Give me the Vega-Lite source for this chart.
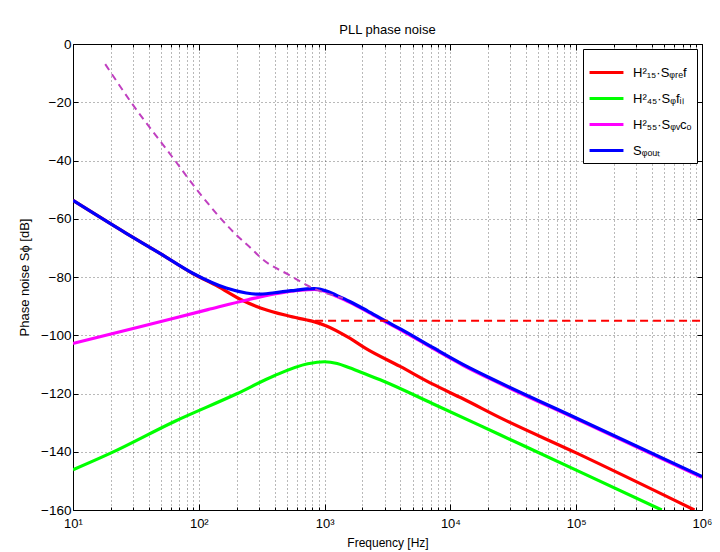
{
  "$schema": "https://vega.github.io/schema/vega-lite/v6.json",
  "width": 629,
  "height": 466,
  "autosize": "none",
  "padding": {"left": 73, "top": 44, "right": 18, "bottom": 42},
  "background": "white",
  "title": {"text": "PLL phase noise", "font": "Liberation Sans", "fontSize": 13, "fontWeight": "normal", "color": "black", "offset": 0},
  "config": {
    "view": {"stroke": "black", "strokeWidth": 1},
    "axis": {"labelFont": "Liberation Sans", "titleFont": "Liberation Sans", "labelColor": "black", "titleColor": "black", "titleFontWeight": "normal", "tickColor": "black", "domain": false}
  },
  "datasets": {
    "solid": [
      {"s": "fil", "f": 10, "db": -146.2}, {"s": "fil", "f": 20.1, "db": -140.4}, {"s": "fil", "f": 64.1, "db": -129.6}, {"s": "fil", "f": 200.4, "db": -120.1}, {"s": "fil", "f": 398, "db": -113.9}, {"s": "fil", "f": 734.5, "db": -109.8}, {"s": "fil", "f": 997.7, "db": -109.1}, {"s": "fil", "f": 1259, "db": -109.7}, {"s": "fil", "f": 1578, "db": -111.2}, {"s": "fil", "f": 2138, "db": -113.4}, {"s": "fil", "f": 2884, "db": -115.6}, {"s": "fil", "f": 7244, "db": -123.5}, {"s": "fil", "f": 24547, "db": -134.1}, {"s": "fil", "f": 100000, "db": -146.3}, {"s": "fil", "f": 478630, "db": -160},
      {"s": "ref", "f": 10, "db": -53.7}, {"s": "ref", "f": 26.5, "db": -65.0}, {"s": "ref", "f": 48.75, "db": -71.8}, {"s": "ref", "f": 89.5, "db": -78.8}, {"s": "ref", "f": 141.6, "db": -83.2}, {"s": "ref", "f": 217.3, "db": -87.8}, {"s": "ref", "f": 313.3, "db": -90.7}, {"s": "ref", "f": 509.3, "db": -93.3}, {"s": "ref", "f": 707.9, "db": -94.7}, {"s": "ref", "f": 831.8, "db": -95.4}, {"s": "ref", "f": 1023, "db": -96.7}, {"s": "ref", "f": 1585, "db": -101.0}, {"s": "ref", "f": 2138, "db": -104.6}, {"s": "ref", "f": 3981, "db": -110.7}, {"s": "ref", "f": 7244, "db": -116.8}, {"s": "ref", "f": 12589, "db": -121.8}, {"s": "ref", "f": 24547, "db": -128.2}, {"s": "ref", "f": 100000, "db": -140.4}, {"s": "ref", "f": 870964, "db": -160},
      {"s": "vco", "f": 10, "db": -102.8}, {"s": "vco", "f": 34.8, "db": -97.0}, {"s": "vco", "f": 118, "db": -91.2}, {"s": "vco", "f": 245.5, "db": -87.8}, {"s": "vco", "f": 398, "db": -85.8}, {"s": "vco", "f": 651.6, "db": -84.5}, {"s": "vco", "f": 831.8, "db": -84.3}, {"s": "vco", "f": 1023, "db": -85.0}, {"s": "vco", "f": 1259, "db": -86.7}, {"s": "vco", "f": 1585, "db": -88.7}, {"s": "vco", "f": 2188, "db": -91.9}, {"s": "vco", "f": 3020, "db": -95.3}, {"s": "vco", "f": 4074, "db": -98.3}, {"s": "vco", "f": 7244, "db": -104.5}, {"s": "vco", "f": 12589, "db": -110.3}, {"s": "vco", "f": 24547, "db": -116.5}, {"s": "vco", "f": 100000, "db": -128.7}, {"s": "vco", "f": 1000000, "db": -148.8},
      {"s": "out", "f": 10, "db": -53.7}, {"s": "out", "f": 26.5, "db": -65.0}, {"s": "out", "f": 48.75, "db": -71.8}, {"s": "out", "f": 89.5, "db": -78.7}, {"s": "out", "f": 165.2, "db": -83.8}, {"s": "out", "f": 238.2, "db": -85.5}, {"s": "out", "f": 294.4, "db": -85.9}, {"s": "out", "f": 398, "db": -85.4}, {"s": "out", "f": 542, "db": -84.7}, {"s": "out", "f": 831.8, "db": -84.0}, {"s": "out", "f": 1023, "db": -84.7}, {"s": "out", "f": 1259, "db": -86.4}, {"s": "out", "f": 1585, "db": -88.4}, {"s": "out", "f": 2188, "db": -91.6}, {"s": "out", "f": 3020, "db": -95.0}, {"s": "out", "f": 4074, "db": -98.0}, {"s": "out", "f": 7244, "db": -104.2}, {"s": "out", "f": 12589, "db": -110.0}, {"s": "out", "f": 24547, "db": -116.2}, {"s": "out", "f": 100000, "db": -128.4}, {"s": "out", "f": 1000000, "db": -148.5}
    ],
    "refdash": [{"f": 840, "db": -95}, {"f": 1000000, "db": -95}],
    "vcodash": [
      {"f": 18.03, "db": -6.9}, {"f": 28.1, "db": -19.2}, {"f": 64.1, "db": -39.8}, {"f": 101.4, "db": -51.2}, {"f": 198.2, "db": -65.5}, {"f": 268.5, "db": -70.7}, {"f": 303.9, "db": -73.0}, {"f": 558.5, "db": -80.0}, {"f": 714.5, "db": -82.7}, {"f": 805.4, "db": -83.8}, {"f": 1396, "db": -87.2}
    ]
  },
  "layer": [
    {
      "data": {"name": "solid"},
      "mark": {"type": "line", "strokeWidth": 3.2, "interpolate": "monotone", "clip": true},
      "encoding": {
        "x": {
          "field": "f", "type": "quantitative",
          "scale": {"type": "log", "domain": [10, 1000000], "nice": false},
          "axis": {
            "orient": "bottom",
            "title": "Frequency [Hz]", "titleFontSize": 12, "titlePadding": 4,
            "values": [10,20,30,40,50,60,70,80,90,100,200,300,400,500,600,700,800,900,1000,2000,3000,4000,5000,6000,7000,8000,9000,10000,20000,30000,40000,50000,60000,70000,80000,90000,100000,200000,300000,400000,500000,600000,700000,800000,900000,1000000],
            "labelExpr": "indexof([10,100,1000,10000,100000,1000000], datum.value) >= 0 ? '10' + ['¹','²','³','⁴','⁵','⁶'][round(log(datum.value)/LN10)-1] : ''",
            "labelFontSize": 13, "labelPadding": 13, "labelOverlap": false, "labelFlush": false,
            "grid": true, "gridDash": [1, 3], "gridColor": "#000", "gridOpacity": 0.55, "gridWidth": 1,
            "tickSize": {"condition": {"test": "indexof([10,100,1000,10000,100000,1000000], datum.value) >= 0", "value": -6}, "value": -3}
          }
        },
        "y": {
          "field": "db", "type": "quantitative",
          "scale": {"domain": [-160, 0], "nice": false},
          "axis": {
            "orient": "left",
            "title": "Phase noise Sϕ [dB]", "titleFontSize": 13, "titlePadding": 9,
            "values": [-160,-140,-120,-100,-80,-60,-40,-20,0],
            "labelExpr": "replace(datum.label, '-', '−')",
            "labelFontSize": 13.5, "labelPadding": 7,
            "grid": true, "gridDash": [1, 3], "gridColor": "#000", "gridOpacity": 0.55, "gridWidth": 1,
            "tickSize": -5
          }
        },
        "color": {
          "field": "s", "type": "nominal",
          "scale": {"domain": ["ref", "fil", "vco", "out"], "range": ["#ff0000", "#00ff00", "#ff00ff", "#0000ff"]},
          "legend": {
            "title": null, "orient": "top-right", "offset": 5,
            "strokeColor": "black", "fillColor": "white", "padding": 5, "cornerRadius": 0,
            "symbolType": "stroke", "symbolStrokeWidth": 3, "symbolSize": 1150,
            "labelFont": "Liberation Sans", "labelFontSize": 13, "labelColor": "black", "rowPadding": -1, "labelOffset": 8,
            "labelExpr": "datum.value == 'ref' ? 'H²₁₅·Sᵩᵣₑf' : datum.value == 'fil' ? 'H²₄₅·Sᵩfᵢₗ' : datum.value == 'vco' ? 'H²₅₅·Sᵩᵥcₒ' : 'Sᵩₒᵤₜ'"
          }
        }
      }
    },
    {
      "data": {"name": "refdash"},
      "mark": {"type": "line", "strokeWidth": 2, "strokeDash": [8, 5], "color": "#ff0000", "clip": true},
      "encoding": {
        "x": {"field": "f", "type": "quantitative", "scale": {"type": "log", "domain": [10, 1000000], "nice": false},
          "axis": {"orient": "top", "title": null, "labels": false, "grid": false,
            "values": [10,20,30,40,50,60,70,80,90,100,200,300,400,500,600,700,800,900,1000,2000,3000,4000,5000,6000,7000,8000,9000,10000,20000,30000,40000,50000,60000,70000,80000,90000,100000,200000,300000,400000,500000,600000,700000,800000,900000,1000000],
            "tickSize": {"condition": {"test": "indexof([10,100,1000,10000,100000,1000000], datum.value) >= 0", "value": -6}, "value": -3}}},
        "y": {"field": "db", "type": "quantitative", "scale": {"domain": [-160, 0], "nice": false},
          "axis": {"orient": "right", "title": null, "labels": false, "grid": false, "values": [-160,-140,-120,-100,-80,-60,-40,-20,0], "tickSize": -5}}
      }
    },
    {
      "data": {"name": "vcodash"},
      "mark": {"type": "line", "strokeWidth": 2, "strokeDash": [7, 5], "color": "#c040c0", "interpolate": "monotone", "clip": true},
      "encoding": {
        "x": {"field": "f", "type": "quantitative", "scale": {"type": "log", "domain": [10, 1000000], "nice": false}, "axis": null},
        "y": {"field": "db", "type": "quantitative", "scale": {"domain": [-160, 0], "nice": false}, "axis": null}
      }
    }
  ],
  "resolve": {"axis": {"x": "independent", "y": "independent"}}
}
